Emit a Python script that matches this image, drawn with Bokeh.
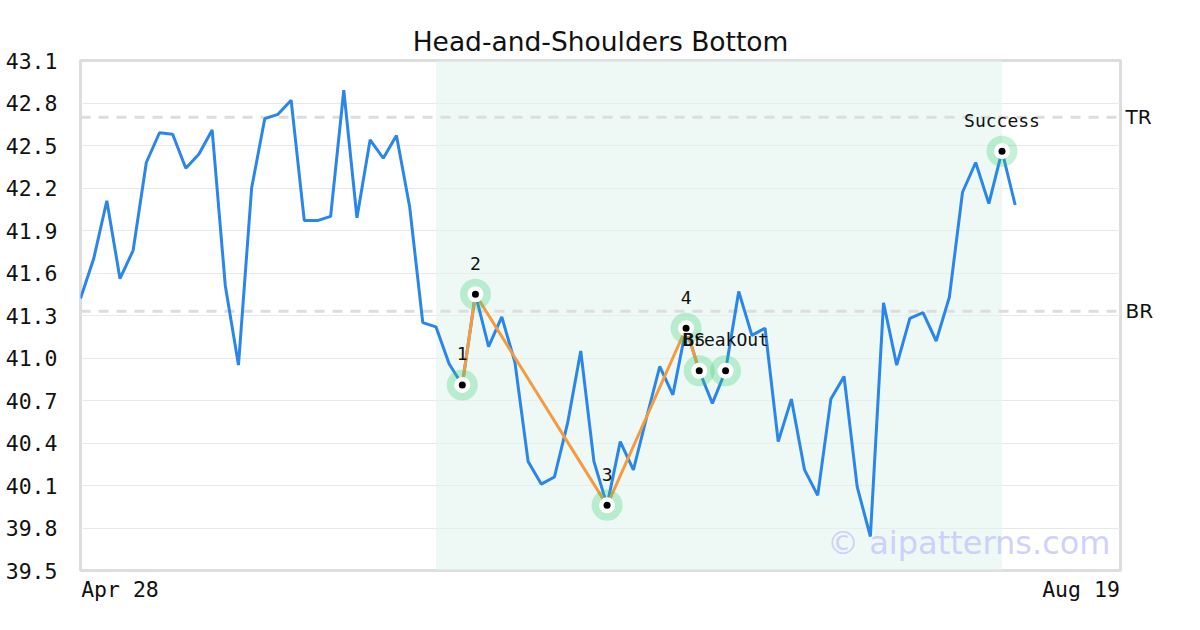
from bokeh.plotting import figure
from bokeh.models import (Range1d, FixedTicker, Label, LinearAxis, BoxAnnotation,
                          Span, ColumnDataSource)
from bokeh.core.properties import value
from bokeh.embed import file_html
from bokeh.resources import INLINE

# ---------------- data ----------------
close = [41.42, 41.70, 42.11, 41.56, 41.76, 42.38, 42.59, 42.58, 42.34, 42.44,
         42.61, 41.51, 40.95, 42.20, 42.69, 42.72, 42.82, 41.97, 41.97, 42.00,
         42.89, 41.99, 42.54, 42.41, 42.57, 42.07, 41.25, 41.22, 40.96, 40.81,
         41.45, 41.08, 41.29, 40.97, 40.27, 40.11, 40.16, 40.54, 41.05, 40.27,
         39.96, 40.41, 40.21, 40.58, 40.94, 40.74, 41.21, 40.91, 40.68, 40.91,
         41.47, 41.16, 41.21, 40.41, 40.71, 40.21, 40.03, 40.71, 40.87, 40.09,
         39.74, 41.39, 40.95, 41.28, 41.32, 41.12, 41.43, 42.17, 42.38, 42.09,
         42.46, 42.08]
n_days_axis = 79                      # trading-day span Apr 28 .. Aug 19
date_labels = ["Apr 28", "Aug 19"]

pattern_idx = [29, 30, 40, 46, 47]
pattern_names = ["1", "2", "3", "4", "BS"]
event_idx = [49, 70]
event_names = ["BreakOut", "Success"]

shade_start, shade_end = 27, 70
TR, BR = 42.70, 41.33
y_ticks = [39.5, 39.8, 40.1, 40.4, 40.7, 41.0, 41.3, 41.6, 41.9, 42.2, 42.5, 42.8, 43.1]
y_min, y_max = 39.5, 43.1

title_text = "Head-and-Shoulders Bottom"
watermark = "\u00a9 aipatterns.com"

# ---------------- layout ----------------
W, H = 1200, 630
BL, BR_, BT, BB = 80, 80, 60, 60
frame_w = W - BL - BR_
axis_font = 21.5
px_per_day = frame_w / n_days_axis

x = list(range(len(close)))

p = figure(width=W, height=H, output_backend="svg", toolbar_location=None,
           x_range=Range1d(0, n_days_axis), y_range=Range1d(y_min, y_max),
           min_border_left=BL, min_border_right=BR_, min_border_top=BT,
           min_border_bottom=BB)

p.title.text = title_text
p.title.align = "center"
p.title.text_font = "DejaVu Sans"
p.title.text_font_size = "26.5px"
p.title.text_font_style = "normal"
p.title.text_color = "#111111"
p.title.standoff = 8

p.background_fill_color = "white"
p.border_fill_color = "white"
p.outline_line_color = "#dddddd"
p.outline_line_width = 3

# y axis
p.yaxis.ticker = FixedTicker(ticks=y_ticks)
p.yaxis.major_label_overrides = {t: f"{t:.1f}" for t in y_ticks}
p.yaxis.major_label_text_font = "DejaVu Sans Mono"
p.yaxis.major_label_text_font_size = f"{axis_font}px"
p.yaxis.major_label_text_color = "#111111"
p.yaxis.major_label_standoff = 23
p.yaxis.axis_line_color = None
p.yaxis.major_tick_line_color = None
p.yaxis.minor_tick_line_color = None
p.yaxis.major_tick_out = 0
p.yaxis.major_tick_in = 0

# x axis: edge labels aligned inside the frame edges
half_lbl = [len(t) * 0.602 * axis_font / 2 / px_per_day for t in date_labels]
x_ticks = [0 + half_lbl[0] + 0.05, n_days_axis - half_lbl[1] - 0.05]
p.xaxis.ticker = FixedTicker(ticks=x_ticks)
p.xaxis.major_label_overrides = {x_ticks[0]: date_labels[0], x_ticks[1]: date_labels[1]}
p.xaxis.major_label_text_font = "DejaVu Sans Mono"
p.xaxis.major_label_text_font_size = f"{axis_font}px"
p.xaxis.major_label_text_color = "#111111"
p.xaxis.major_label_standoff = 6
p.xaxis.axis_line_color = None
p.xaxis.major_tick_line_color = None
p.xaxis.minor_tick_line_color = None
p.xaxis.major_tick_out = 0
p.xaxis.major_tick_in = 0

p.xgrid.grid_line_color = None
p.ygrid.ticker = FixedTicker(ticks=y_ticks)
p.ygrid.grid_line_color = "#e8e8e8"
p.ygrid.grid_line_width = 1

# right axis with TR/BR
right = LinearAxis(ticker=FixedTicker(ticks=[BR, TR]),
                   major_label_overrides={BR: "BR", TR: "TR"})
right.axis_line_color = None
right.major_tick_line_color = None
right.minor_tick_line_color = None
right.major_tick_out = 0
right.major_tick_in = 0
right.major_label_text_font = "DejaVu Sans"
right.major_label_text_font_size = "20px"
right.major_label_text_color = "#111111"
right.major_label_standoff = 5
p.add_layout(right, "right")

# shaded pattern region
p.add_layout(BoxAnnotation(left=shade_start, right=shade_end,
                           fill_color="#e3f3ec", fill_alpha=0.6, line_color=None,
                           level="underlay"))

# TR / BR dashed lines
for lvl in (TR, BR):
    p.add_layout(Span(location=lvl, dimension="width", line_color="#dddddd",
                      line_width=3, line_dash="10 8", level="underlay"))

# price line
p.line(x, close, line_color="#2a86e8", line_width=3)

# pattern connecting line
px = pattern_idx
py = [close[i] for i in px]
p.line(px, py, line_color="#f59a3e", line_width=3)

# markers
mk_x = pattern_idx + event_idx
mk_y = [close[i] for i in mk_x]
mk_t = pattern_names + event_names
mk_dx = [-5 if t == "BS" else 0 for t in mk_t]
src = ColumnDataSource(dict(x=mk_x, y=mk_y, t=mk_t, dx=mk_dx))
p.scatter("x", "y", source=src, size=31, fill_color="#2ecc71", fill_alpha=0.28,
          line_color=None)
p.scatter("x", "y", source=src, size=16, fill_color="white", line_color=None)
p.scatter("x", "y", source=src, size=7, fill_color="black", line_color=None)
p.text("x", "y", text="t", source=src, x_offset="dx", y_offset=-31,
       text_align="center", text_baseline="middle",
       text_font=value("DejaVu Sans Mono"), text_font_size="18px",
       text_color="#111111")

# watermark
p.add_layout(Label(x=n_days_axis, y=y_min, x_offset=-10, y_offset=28,
                   text=watermark, text_align="right", text_baseline="middle",
                   text_font="DejaVu Sans", text_font_size="32px",
                   text_color="#c8c8ff", text_alpha=0.85))

open("out.html", "w").write(file_html(p, INLINE))
